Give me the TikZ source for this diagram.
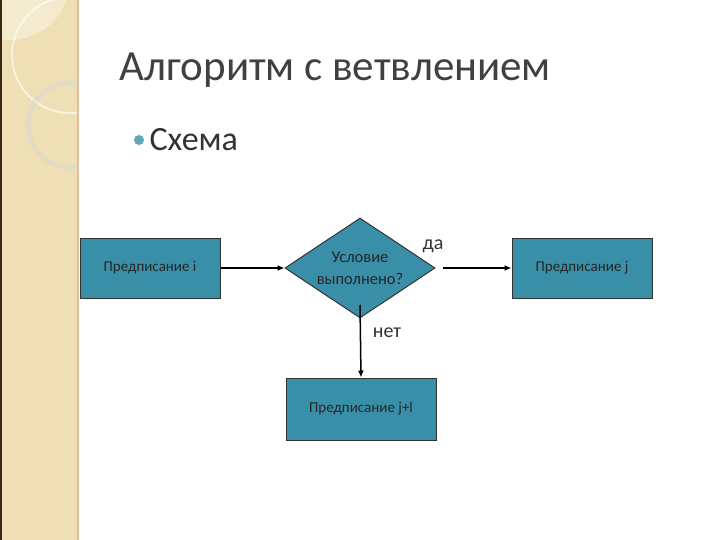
\documentclass[tikz,border=0pt]{standalone}
\usepackage{fontspec}
\setmainfont{Carlito}
\usetikzlibrary{shapes.geometric,arrows.meta}
\definecolor{teal1}{HTML}{3A8FA8}
\definecolor{beige}{HTML}{EFDFB4}
\tikzset{box/.style={draw=black!80,line width=1pt,fill=teal1,minimum width=140pt,minimum height=60pt,inner sep=0pt,font=\fontsize{15}{18}\selectfont,text=black!85},
arr/.style={-{Latex[length=7pt,width=6pt]},line width=1.5pt}}
\begin{document}
\begin{tikzpicture}[x=1pt,y=-1pt]
\useasboundingbox (0,0) rectangle (720,540);
\fill[white] (0,0) rectangle (720,540);
\fill[beige] (0,0) rectangle (78,540);
\begin{scope}
\clip (0,0) rectangle (78,540);
\fill[white,opacity=0.35] (10,-20) circle (60);
\draw[white,opacity=0.6,line width=2pt] (70,55) circle (58);
\draw[black!15,opacity=0.5,line width=5pt] (70,125) circle (42);
\end{scope}
\draw[black!70!brown,line width=1.5pt] (0.75,0) -- (0.75,540);
\draw[brown!50,line width=1.2pt] (78,0) -- (78,540);
\node[anchor=west,font=\fontsize{43}{48}\selectfont,text=black!75] (title) at (116,70) {Алгоритм с ветвлением};
\fill[teal1!80] (139,140) circle (5);
\node[anchor=west,font=\fontsize{34}{40}\selectfont,text=black!80] (sch) at (146,140) {Схема};
\node[box] (a) at (150,268) {Предписание i};
\node[diamond,draw=black!80,line width=1pt,fill=teal1,minimum width=150pt,minimum height=100pt,aspect=1.5,inner sep=0pt,align=center,font=\fontsize{16.5}{22}\selectfont,text=black!85] (d) at (360,268) {Условие\\выполнено?};
\node[box] (b) at (582,268) {Предписание j};
\node[box,minimum width=150pt,minimum height=62pt] (c) at (361,409) {Предписание j+l};
\coordinate (r) at (443,268);
\coordinate (dn) at (360,305);
\draw[arr] (a) -- (d.west);
\draw[arr] (r) -- (b);
\draw[arr] (dn) -- (c.north);
\node[font=\fontsize{20}{24}\selectfont,text=black!80] (da) at (433,246) {да};
\node[font=\fontsize{20}{24}\selectfont,text=black!80] (net) at (387,333) {нет};
\end{tikzpicture}
\end{document}
